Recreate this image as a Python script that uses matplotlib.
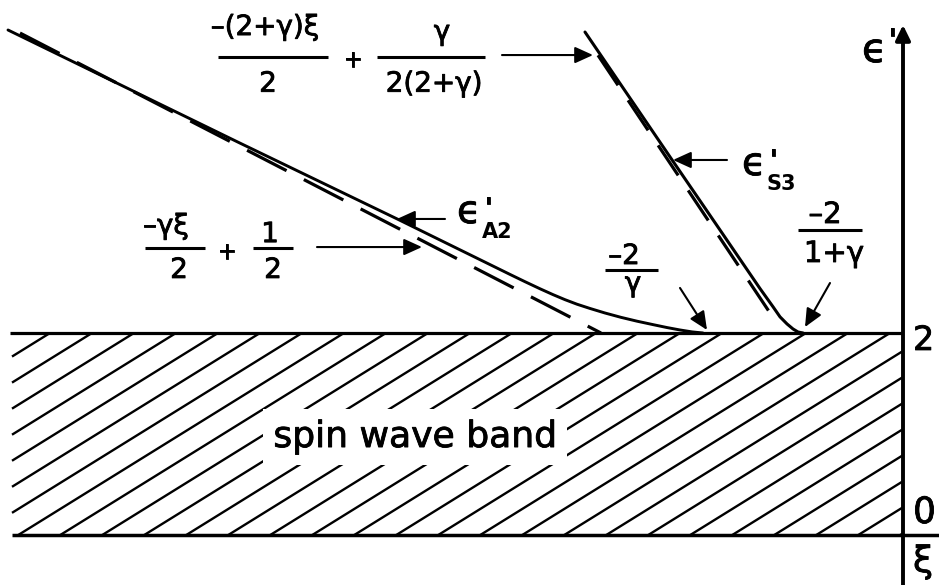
import matplotlib
matplotlib.use("Agg")
import matplotlib.pyplot as plt
import matplotlib.patheffects as pe
import numpy as np
from matplotlib.collections import LineCollection

plt.rcParams["font.family"] = ["DejaVu Sans"]
plt.rcParams["lines.scale_dashes"] = False

# ---- data -------------------------------------------------------------
# bound state eps'_A2 (solid) and its large-|xi| asymptote -gamma*xi/2 + 1/2
a2_xi = [-8.95, -6.63, -5.06, -3.93, -3.78, -3.63, -3.50, -3.38, -3.26,
         -3.13, -2.98, -2.82, -2.66, -2.50, -2.36, -2.23, -2.11, -2.00]
a2_eps = [5.00, 3.88, 3.13, 2.58, 2.508, 2.438, 2.38, 2.33, 2.285,
          2.243, 2.198, 2.155, 2.117, 2.083, 2.054, 2.030, 2.011, 2.00]
a2_asym_xi = [-8.83, -3.02]
a2_asym_eps = [4.97, 2.00]

# bound state eps'_S3 (solid) and its asymptote -(2+gamma)xi/2 + gamma/(2(2+gamma))
s3_xi = [-3.18, -2.30, -1.83, -1.43, -1.30, -1.23, -1.16, -1.10, -1.05, -1.00]
s3_eps = [4.98, 3.70, 3.02, 2.44, 2.26, 2.16, 2.09, 2.04, 2.01, 2.00]
s3_asym_xi = [-3.05, -1.27]
s3_asym_eps = [4.75, 2.11]

# spin wave band: 0 <= eps' <= 2
band_left = -8.91
band_bottom = 0.0
band_top = 2.0
eps_ticks = [2, 0]
eps_tick_labels = ["2", "0"]

# ---- figure -----------------------------------------------------------
fig = plt.figure(figsize=(9.39, 5.85), dpi=100)
ax = fig.add_axes([0, 0, 1, 1])
ax.set_xlim(-9.03, 0.36)
ax.set_ylim(-0.495, 5.297)
ax.axis("off")
K = "black"
INK = [pe.withStroke(linewidth=0.6, foreground=K)]

# hatching of the band: parallel strokes cut at the band's edges
hatch_slope = 0.614
hatch_step = 0.42
span = (band_top - band_bottom) / hatch_slope
segs = []
for c in -8.53 + hatch_step * np.arange(-8, 29):
    x_lo = max(c - span, band_left)
    x_hi = min(c, 0.0)
    if x_lo < x_hi:
        segs.append([(x_lo, band_top + hatch_slope * (x_lo - c)),
                     (x_hi, band_top + hatch_slope * (x_hi - c))])
ax.add_collection(LineCollection(segs, colors=K, linewidths=1.7, zorder=1),
                  autolim=False)

ax.text(-4.88, 0.871, "spin wave band", fontsize=26, ha="center",
        va="baseline", zorder=2, path_effects=INK,
        bbox=dict(boxstyle="square,pad=0.3", facecolor="white",
                  edgecolor="none"))

# band edges and axes
ax.plot([band_left - 0.02, 0], [band_top, band_top], color=K, lw=2.3,
        zorder=3, solid_capstyle="butt")
ax.plot([band_left, 0.36], [band_bottom, band_bottom], color=K, lw=2.5,
        zorder=3, solid_capstyle="butt")
ax.annotate("", xy=(0, 5.05), xytext=(0, -0.6),
            arrowprops=dict(arrowstyle="-|>,head_length=0.45,head_width=0.22",
                            lw=2.8, color=K, shrinkA=0, shrinkB=0,
                            mutation_scale=20), zorder=3)

# curves
ax.plot(a2_asym_xi, a2_asym_eps, color=K, lw=2.3, dashes=(32, 14), zorder=3)
ax.plot(a2_xi, a2_eps, color=K, lw=2.1, zorder=3,
        solid_joinstyle="round", solid_capstyle="round")
ax.plot(s3_asym_xi, s3_asym_eps, color=K, lw=2.3, dashes=(26, 13), zorder=3)
ax.plot(s3_xi, s3_eps, color=K, lw=2.2, zorder=3,
        solid_joinstyle="round", solid_capstyle="round")


def arrow(tail, tip):
    ax.annotate("", xy=tip, xytext=tail,
                arrowprops=dict(arrowstyle="-|>,head_length=0.55,head_width=0.25",
                                lw=1.5, color=K, shrinkA=0, shrinkB=0,
                                mutation_scale=20), zorder=4)


def bar(x0, x1, y):
    ax.plot([x0, x1], [y, y], color=K, lw=2.2, solid_capstyle="butt", zorder=4)


def t(x, y, s, size, ha="center", **kw):
    kw.setdefault("path_effects", INK)
    ax.text(x, y, s, fontsize=size, ha=ha, va="baseline", zorder=4, **kw)


def eps_name(x, y, sub):
    t(x, y, "ϵ", 28, ha="left")
    t(x + 0.27, y + 0.06, "'", 20, ha="left", fontweight="bold")
    t(x + 0.25, y - 0.148, sub, 15, ha="left", fontweight="bold",
      path_effects=[])


# asymptote of eps'_S3
t(-6.38, 4.95, "–(2+γ)ξ", 20)
bar(-6.85, -5.75, 4.733)
t(-6.35, 4.389, "2", 20)
t(-5.50, 4.635, "+", 17)
t(-4.61, 4.90, "γ", 20)
bar(-5.26, -4.18, 4.733)
t(-4.69, 4.389, "2(2+γ)", 20)
arrow((-4.01, 4.752), (-3.10, 4.752))

# asymptote of eps'_A2
t(-7.37, 2.98, "–γξ", 20)
bar(-7.58, -6.98, 2.842)
t(-7.24, 2.545, "2", 20)
t(-6.76, 2.735, "+", 17)
t(-6.33, 2.90, "1", 20)
bar(-6.50, -6.10, 2.842)
t(-6.30, 2.545, "2", 20)
arrow((-5.86, 2.851), (-4.81, 2.851))

# curve names
eps_name(-4.46, 3.089, "A2")
arrow((-4.58, 3.129), (-5.06, 3.129))
eps_name(-1.61, 3.564, "S3")
arrow((-1.76, 3.713), (-2.30, 3.713))

# thresholds where the bound states meet the band
t(-2.79, 2.683, "–2", 20)
bar(-2.98, -2.45, 2.624)
t(-2.70, 2.41, "γ", 20)
arrow((-2.23, 2.446), (-1.96, 2.030))

t(-0.78, 3.089, "–2", 21)
bar(-1.05, -0.41, 3.02)
t(-0.69, 2.703, "1+γ", 21)
arrow((-0.73, 2.495), (-0.98, 2.059))

# axis labels
t(-0.41, 4.683, "ϵ", 29, ha="left")
t(-0.15, 4.80, "'", 22, ha="left", fontweight="bold")
for val, lab, size in zip(eps_ticks, eps_tick_labels, [24, 26]):
    t(0.10, val - 0.168 if val > 0 else val + 0.119, lab, size, ha="left")
t(0.10, -0.366, "ξ", 26, ha="left")

fig.savefig("out.png", dpi=100)
